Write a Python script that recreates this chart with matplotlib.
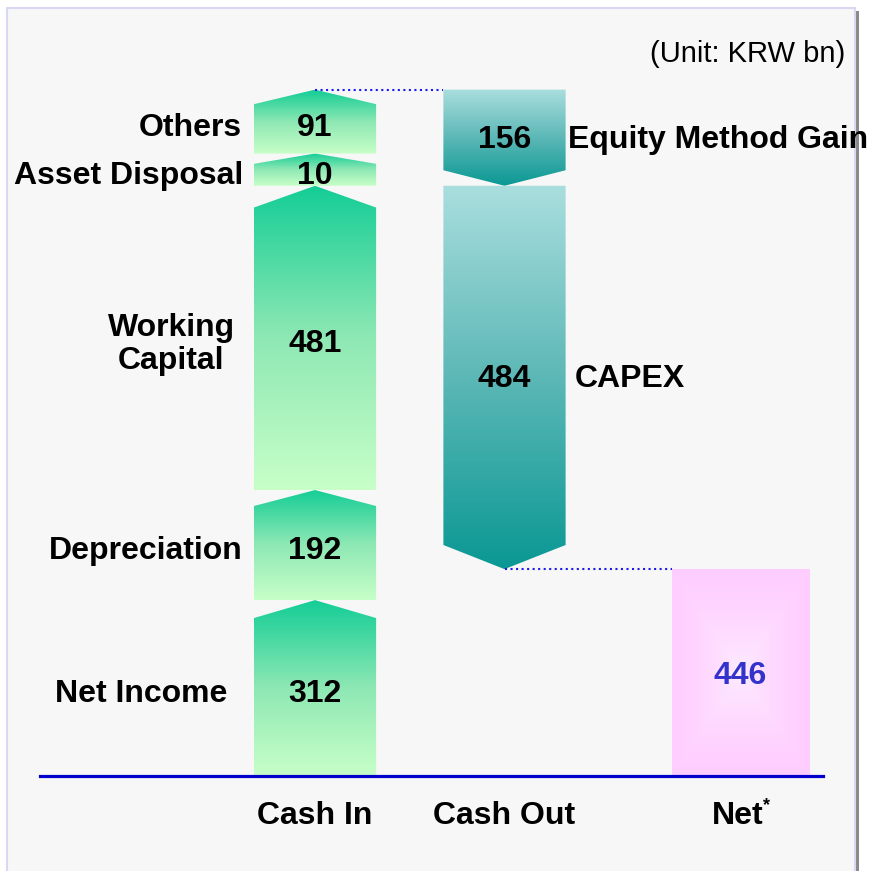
import numpy as np
import matplotlib.pyplot as plt
from matplotlib.patches import Polygon, Rectangle
from matplotlib.colors import LinearSegmentedColormap, to_rgb

plt.rcParams['font.family'] = ['Liberation Sans', 'DejaVu Sans']

# values (KRW bn)
in_labels = ['Net Income', 'Depreciation', 'Working\nCapital', 'Asset Disposal', 'Others']
in_values = [312, 192, 481, 10, 91]
# segment heights as drawn on the slide (the slide is not to scale)
in_drawn = [278, 174, 481, 51, 101]

out_labels = ['Equity Method Gain', 'CAPEX']
out_values = [156, 484]
out_drawn = [152, 606]

net_value = 446
net_drawn = 327

columns = ['Cash In', 'Cash Out', 'Net']

# layout
xpos = [0, 1, 2.245]
w = 0.645
w_net = 0.725
in_label_pad = [27, 11, 19, 11, 12]   # px gap between label and arrow
out_label_pad = [2, 9]
PX = 0.72  # points per pixel at dpi 100
FS = 23

fig = plt.figure(figsize=(8.7, 8.71), dpi=100)
fig.patch.set_facecolor('white')

# slide panel + shadow
fig.patches.append(Rectangle((856/870, 0), 3/870, (871-11)/871, transform=fig.transFigure,
                             facecolor='#8a8a8a', edgecolor='none', zorder=-2))
fig.patches.append(Rectangle((7/870, -0.01), (855-7)/870, (871-8)/871 + 0.01, transform=fig.transFigure,
                             facecolor='#f7f7f7', edgecolor='#d8d8f4', lw=1.5, zorder=-1))

ax = fig.add_axes([40/870, 95/871, 783/870, 727.5/871])
ax.set_facecolor('none')
ax.axis('off')

cm_in = LinearSegmentedColormap.from_list('cin', ['#c8ffc8', '#8ee8b4', '#14cd96'])
cm_out = LinearSegmentedColormap.from_list('cout', ['#0a9894', '#5cb8b6', '#aadede'])


def arrow(xc, y0, h, tip, up, cmap):
    x0, x1 = xc - w / 2, xc + w / 2
    if up:
        pts = [(x0, y0), (x1, y0), (x1, y0 + h - tip), (xc, y0 + h), (x0, y0 + h - tip)]
    else:
        pts = [(x0, y0 + h), (x1, y0 + h), (x1, y0 + tip), (xc, y0), (x0, y0 + tip)]
    poly = Polygon(pts, closed=True, facecolor='none', edgecolor='none')
    ax.add_patch(poly)
    grad = np.linspace(0, 1, 256).reshape(-1, 1)
    im = ax.imshow(grad, cmap=cmap, extent=(x0, x1, y0, y0 + h), origin='lower',
                   aspect='auto', zorder=2, interpolation='bilinear')
    im.set_clip_path(poly)


# cash in
y = 0
for lab, v, h, pad in zip(in_labels, in_values, in_drawn, in_label_pad):
    tip = min(20 + 0.03 * h, 0.32 * h)
    arrow(xpos[0], y, h, tip, True, cm_in)
    ym = y + h / 2 - 10
    ax.text(xpos[0], ym, str(v), ha='center', va='center', fontsize=FS,
            fontweight='bold', zorder=5)
    ax.annotate(lab, (xpos[0] - w / 2, ym), xytext=(-pad * PX, 0), textcoords='offset points',
                ha='right', va='center', multialignment='center', fontsize=FS,
                fontweight='bold', linespacing=1.12, zorder=5)
    y += h
in_top = y

# cash out
y = in_top
for lab, v, h, pad in zip(out_labels, out_values, out_drawn, out_label_pad):
    tip = 20 + 0.03 * h
    arrow(xpos[1], y - h, h, tip, False, cm_out)
    ym = y - h / 2 - 3
    ax.text(xpos[1], ym, str(v), ha='center', va='center', fontsize=FS,
            fontweight='bold', zorder=5)
    ax.annotate(lab, (xpos[1] + w / 2, ym), xytext=(pad * PX, 0), textcoords='offset points',
                ha='left', va='center', fontsize=FS, fontweight='bold', zorder=5)
    y -= h
out_bottom = y

# net box with rectangular "from centre" gradient
n = 200
u = np.linspace(-1, 1, n)
d = np.maximum(np.abs(u)[None, :], np.abs(u)[:, None])
c0 = np.array(to_rgb('#fdf0ff'))
c1 = np.array(to_rgb('#ffccff'))
img = c0 + (c1 - c0) * np.clip(d, 0, 1)[..., None] ** 0.6
ax.imshow(img, extent=(xpos[2] - w_net / 2, xpos[2] + w_net / 2, 0, net_drawn),
          aspect='auto', zorder=2, interpolation='bilinear')
ax.text(xpos[2], net_drawn / 2 - 6, str(net_value), ha='center', va='center', fontsize=FS,
        fontweight='bold', color='#3333cc', zorder=5)

# connectors
ax.plot([xpos[0], xpos[1] - w / 2], [in_top, in_top], ls=':', color='#1a1aee', lw=1.5, zorder=3)
ax.plot([xpos[1], xpos[2] - w_net / 2], [out_bottom, out_bottom], ls=':', color='#1a1aee',
        lw=1.5, zorder=3)

ax.axhline(0, color='#0000cc', lw=2.3, zorder=4, clip_on=False)

# category labels
for x, c in zip(xpos, columns):
    dx = -3 if c == 'Net' else 0
    ax.annotate(c, (x, 0), xytext=(dx * PX, -40 * PX), textcoords='offset points', ha='center',
                va='center', fontsize=FS, fontweight='bold')
ax.annotate('*', (xpos[2], 0), xytext=(26 * PX, -30 * PX), textcoords='offset points',
            ha='center', va='center', fontsize=13, fontweight='bold')

fig.text(845 / 870, 1 - 54 / 871, '(Unit: KRW bn)', ha='right', va='center', fontsize=21)

ax.set_xlim((40 - 315) / 189.5, (823 - 315) / 189.5)
ax.set_ylim(0, 1150)

fig.savefig('out.png', dpi=100)
